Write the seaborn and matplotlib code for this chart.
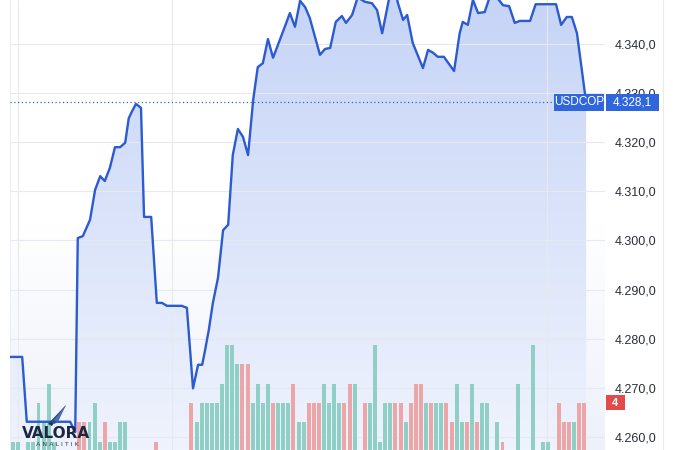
import numpy as np
import pandas as pd
import matplotlib
matplotlib.use("Agg")
import matplotlib.pyplot as plt
import seaborn as sns
import matplotlib.transforms as mtransforms
from matplotlib.colors import LinearSegmentedColormap
from matplotlib.patches import Rectangle, Polygon
from matplotlib.lines import Line2D
from matplotlib.ticker import FuncFormatter, FixedLocator

# ---------------- data ----------------
price_t = [-0.6, 1.8, 2.7, 11.2, 12.2, 12.7, 13.7, 15.1, 16.1, 17.1, 18.0, 19.0, 20.0, 21.0,
           22.0, 22.7, 23.3, 24.1, 25.1, 25.7, 27.1, 28.2, 29.2, 30.2, 33.1, 34.1, 35.3, 36.3,
           37.1, 37.6, 38.4, 39.2, 40.2, 41.2, 42.2, 43.1, 44.1, 45.1, 46.1, 47.1, 48.0, 49.0,
           50.0, 51.0, 52.9, 54.3, 55.3, 56.3, 57.3, 58.2, 60.2, 61.2, 62.2, 63.3, 64.5, 65.3,
           66.5, 67.6, 69.0, 70.4, 71.4, 72.4, 73.9, 74.9, 75.5, 76.5, 77.3, 78.4, 80.4, 81.4,
           82.4, 83.3, 84.5, 86.5, 87.6, 88.2, 89.2, 90.2, 91.2, 92.5, 93.5, 94.5, 96.1, 97.3,
           98.4, 99.4, 101.4, 102.5, 106.5, 107.5, 108.6, 109.6, 110.6, 112.4]
price = [4276.3, 4276.3, 4263.1, 4263.1, 4261.0, 4300.5, 4300.9, 4304.2, 4310.3, 4313.1, 4312.1,
         4314.8, 4319.0, 4319.0, 4319.9, 4324.9, 4326.2, 4327.8, 4327.0, 4304.8, 4304.8, 4287.3,
         4287.3, 4286.7, 4286.7, 4286.3, 4269.9, 4274.7, 4274.7, 4277.3, 4281.8, 4287.3, 4292.4,
         4302.1, 4303.2, 4317.4, 4322.7, 4321.1, 4317.4, 4328.6, 4335.3, 4336.1, 4341.0, 4337.2,
         4342.4, 4346.3, 4343.5, 4348.8, 4347.5, 4345.3, 4337.8, 4339.0, 4339.2, 4344.5, 4345.7,
         4344.3, 4345.9, 4349.5, 4348.6, 4348.3, 4346.9, 4342.2, 4350.0, 4351.0, 4348.3, 4344.9,
         4345.9, 4340.2, 4335.1, 4338.8, 4338.2, 4337.4, 4337.4, 4334.5, 4342.2, 4344.5, 4343.9,
         4349.0, 4346.3, 4346.5, 4349.6, 4350.0, 4347.9, 4347.7, 4344.3, 4344.7, 4344.7, 4348.1,
         4348.1, 4343.9, 4345.5, 4345.5, 4342.2, 4328.1]

vol_t = [0, 1, 3, 4, 5, 6, 7, 8, 13, 14, 15, 16, 17, 18, 19, 20, 21, 22, 28,
         35, 36, 37, 38, 39, 40, 41, 42, 43, 44, 45, 46, 47, 48, 49, 50, 51, 52, 53, 54,
         55, 56, 57, 58, 59, 60, 61, 62, 63, 64, 65, 66, 67, 69, 70, 71, 72, 73, 74, 75,
         76, 77, 78, 79, 80, 81, 82, 83, 84, 85, 86, 87, 88, 89, 90, 91, 92, 93, 95, 96,
         99, 102, 104, 105, 107, 108, 109, 110, 111, 112]
vol = [2, 2, 2, 2, 4, 3, 5, 2, 3, 3, 3, 4, 2, 3, 2, 2, 3, 3, 2,
       4, 3, 4, 4, 4, 4, 5, 7, 7, 6, 6, 6, 4, 5, 4, 5, 4, 4, 4, 4,
       5, 3, 3, 4, 4, 4, 5, 4, 5, 4, 4, 5, 5, 4, 4, 7, 2, 4, 4, 4,
       4, 3, 4, 5, 5, 4, 4, 4, 4, 4, 3, 5, 3, 3, 5, 3, 4, 4, 3, 2,
       5, 7, 2, 2, 4, 3, 3, 3, 4, 4]
vol_dir = ["up", "up", "up", "up", "up", "up", "up", "up", "down", "down", "up", "up", "up",
           "down", "up", "up", "up", "up", "down",
           "down", "up", "up", "up", "up", "up", "up", "up", "up", "up", "down", "down", "up",
           "up", "up", "up", "down", "up", "up", "up",
           "down", "up", "up", "down", "down", "down", "up", "up", "up", "up", "down", "down",
           "up", "down", "up", "up", "up", "up", "up", "down",
           "down", "up", "down", "down", "down", "up", "down", "up", "up", "down", "down", "up",
           "up", "down", "up", "down", "up", "up", "up", "down",
           "up", "up", "up", "up", "down", "down", "down", "up", "down", "down"]

symbol = "USDCOP"
price_ticks = [4260, 4270, 4280, 4290, 4300, 4310, 4320, 4330, 4340]
day_breaks = [1.0, 31.2, 104.7]

# ---------------- layout ----------------
sns.set_theme(style="white")
plt.rcParams['font.family'] = ['Liberation Sans', 'DejaVu Sans']

W, H = 673, 450
fig = plt.figure(figsize=(W / 100, H / 100), dpi=100)
fig.patch.set_facecolor("white")
left, right = 10 / W, 605 / W
axp = fig.add_axes([left, 0, right - left, 1])
axv = axp.twinx()
axl = axp.twinx()

XLIM = (-0.59, 116.1)
YLIM = (4257.35, 4348.96)
VLIM = (1.568, 24.82)

# background tint (white at top, lavender at bottom)
bg_cmap = LinearSegmentedColormap.from_list("bg", ["#eef1fa", "#ffffff", "#ffffff"])
grad = np.linspace(0, 1, 256).reshape(-1, 1)
axp.imshow(grad, extent=[XLIM[0], XLIM[1], YLIM[0], YLIM[1]], origin="lower",
           aspect="auto", cmap=bg_cmap, zorder=0.1)

# gradient area under the price line
fill_cmap = LinearSegmentedColormap.from_list("fill", ["#eff3fd", "#dbe4fa", "#c6d4f6"])
poly = axp.fill_between(price_t, price, YLIM[0], color="none", lw=0)
im = axp.imshow(grad, extent=[XLIM[0], XLIM[1], YLIM[0], YLIM[1]], origin="lower",
                aspect="auto", cmap=fill_cmap, zorder=0.2)
im.set_clip_path(poly.get_paths()[0], transform=axp.transData)

axp.set_xlim(*XLIM)
axp.set_ylim(*YLIM)

# grid
axp.yaxis.set_major_locator(FixedLocator(price_ticks))
axp.set_xticks(day_breaks)
axp.grid(True, axis="both", color="#e6e9f0", lw=0.8)
axp.set_axisbelow("line")
axp.tick_params(axis="x", length=0, labelbottom=False)
axp.yaxis.tick_right()
axp.tick_params(axis="y", length=0, pad=7, labelsize=9, labelcolor="#2a2e39")
axp.yaxis.set_major_formatter(FuncFormatter(
    lambda v, p: f"{v:,.1f}".replace(",", "X").replace(".", ",").replace("X", ".")))
for s in ["top", "right", "bottom"]:
    axp.spines[s].set_visible(False)
axp.spines["left"].set_color("#eceef3")
axp.spines["left"].set_linewidth(0.8)

# volume bars
vdf = pd.DataFrame({"t": vol_t, "vol": vol, "dir": vol_dir})
colors = {"up": "#90cfc6", "down": "#eda6a7"}
axv.bar(vdf["t"], vdf["vol"], width=0.78, color=[colors[d] for d in vdf["dir"]], lw=0)
axv.set_xlim(*XLIM)
axv.set_ylim(*VLIM)
axv.set_yticks([])
axv.grid(False)
for s in axv.spines.values():
    s.set_visible(False)

# price line
pdf = pd.DataFrame({"t": price_t, "price": price})
sns.lineplot(data=pdf, x="t", y="price", ax=axl, color="#2c5bd0", lw=1.7,
             sort=False, estimator=None)
axl.set_xlim(*XLIM)
axl.set_ylim(*YLIM)
axl.set_yticks([])
axl.set_xlabel("")
axl.set_ylabel("")
axl.grid(False)
for s in axl.spines.values():
    s.set_visible(False)
axp.set_xlabel("")
axp.set_ylabel("")

last = price[-1]
axl.axhline(last, ls=(0, (1, 2)), color="#3d63c8", lw=0.9, zorder=1)

# last price labels
ppx = 1.0 / 595  # axes fraction per pixel
ppu = (YLIM[1] - YLIM[0]) / H  # price units per pixel
tr = mtransforms.blended_transform_factory(axl.transAxes, axl.transData)
box_h = 17 * ppu
b1 = Rectangle(((554 - 10) * ppx, last - box_h / 2), 50 * ppx, box_h, transform=tr,
               facecolor="#2f66dd", edgecolor="none", clip_on=False, zorder=5)
b2 = Rectangle(((606 - 10) * ppx, last - box_h / 2), 53 * ppx, box_h, transform=tr,
               facecolor="#2f66dd", edgecolor="none", clip_on=False, zorder=5)
axl.add_patch(b1)
axl.add_patch(b2)
axl.text((579 - 10) * ppx, last, symbol, transform=tr, ha="center", va="center",
         color="white", fontsize=8.5, zorder=6, clip_on=False)
axl.text((632.5 - 10) * ppx, last,
         f"{last:,.1f}".replace(",", "X").replace(".", ",").replace("X", "."),
         transform=tr, ha="center", va="center", color="white", fontsize=8.5, zorder=6,
         clip_on=False)

# last volume badge
trv = mtransforms.blended_transform_factory(axv.transAxes, axv.transData)
vppu = (VLIM[1] - VLIM[0]) / H
vb = Rectangle(((606 - 10) * ppx, vol[-1] - 7.5 * vppu), 19 * ppx, 15 * vppu, transform=trv,
               facecolor="#e34b4b", edgecolor="none", clip_on=False, zorder=5)
axv.add_patch(vb)
axv.text((615.5 - 10) * ppx, vol[-1], str(vol[-1]), transform=trv, ha="center", va="center",
         color="white", fontsize=8, fontweight="bold", zorder=6, clip_on=False)

# right border line
fig.add_artist(Line2D([663 / W, 663 / W], [0, 1], color="#ebebeb", lw=0.8))

# watermark logo
fig.text(22 / W, (H - 438) / H, "VALORA", fontsize=11, fontweight="bold",
         family="DejaVu Sans", color="#1f2740", va="baseline", ha="left", zorder=10)
fig.text(57 / W, (H - 446) / H, "A N A L I T I K", fontsize=4.6, color="#3a3f50",
         family="DejaVu Sans", va="baseline", ha="center", zorder=10)
for i, c in enumerate(["#22345f", "#2f4f8f", "#4b6fb8"]):
    pts = [(48 + 3 * i, 424 - 2 * i), (66, 405), (52 + 3 * i, 426 - 2 * i)]
    fig.add_artist(Polygon([(x / W, (H - y) / H) for x, y in pts], closed=True,
                           facecolor=c, edgecolor="none", transform=fig.transFigure,
                           zorder=10))

fig.savefig("out.png", dpi=100)
